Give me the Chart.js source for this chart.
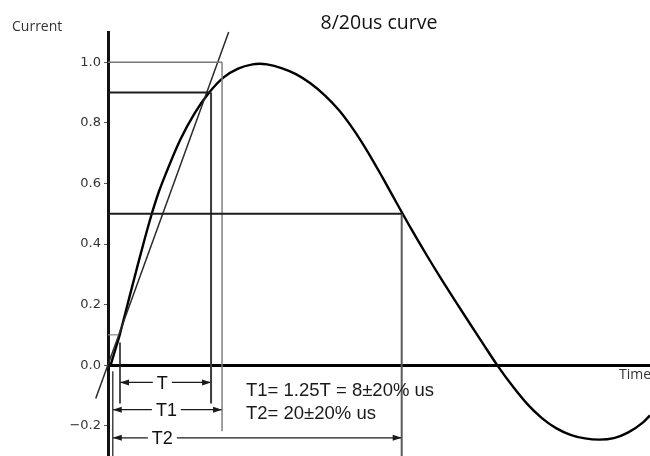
<!DOCTYPE html>
<html><head><meta charset="utf-8">
<script src="https://cdn.jsdelivr.net/npm/chart.js@4"></script>
<style>html,body{margin:0;padding:0;background:#fff;}canvas{display:block;}</style>
</head><body>
<canvas id="c" width="650" height="456"></canvas>
<script>
// ---- data (time in us, current normalised) ----
const curveTime    = [0.18, 0.5, 0.81, 1.0, 1.5, 2.0, 2.5, 3.0, 3.5, 4, 5, 6, 7, 8, 9, 10, 10.5, 11, 12, 13, 14, 15, 16, 17, 18, 19, 20, 21, 22, 23, 24, 25, 26, 27, 28, 29, 30, 31, 32, 33, 34, 35, 36, 37, 37.5];
const curveCurrent = [0, 0.05, 0.1, 0.135, 0.228, 0.32, 0.41, 0.495, 0.57, 0.632, 0.744, 0.832, 0.9, 0.95, 0.979, 0.993, 0.995, 0.993, 0.981, 0.961, 0.931, 0.891, 0.841, 0.777, 0.702, 0.619, 0.533, 0.448, 0.367, 0.289, 0.214, 0.140, 0.067, -0.005, -0.07, -0.128, -0.174, -0.208, -0.23, -0.242, -0.246, -0.241, -0.222, -0.19, -0.166];
const tangentTime    = [-0.85, 8.35];
const tangentCurrent = [-0.11, 1.1];
const levelValues = [1.0, 0.9, 0.5, 0.1];
const levelEnds   = [7.89, 7.13, 20.32, 0.69];
const markerTimes  = [7.89, 7.13, 20.32, 0.83, 0.33];
const markerTop    = [1.0, 0.9, 0.5, 0.075, -0.02];
const markerBottom = [-0.218, -0.127, -0.3, -0.127, -0.3];
const arrowNames   = ['T', 'T1', 'T2'];
const arrowStart   = [0.83, 0.33, 0.33];
const arrowEnd     = [7.13, 7.89, 20.32];
const arrowLevel   = [-0.057, -0.147, -0.24];
const arrowLabelAt = [3.76, 4.04, 3.76];
const yTickValues  = [-0.2, 0.0, 0.2, 0.4, 0.6, 0.8, 1.0];
const chartTitle = '8/20us curve';
const yAxisTitle = 'Current';
const xAxisTitle = 'Time';
const noteLines  = ['T1= 1.25T = 8±20% us', 'T2= 20±20% us'];

// ---- styles ----
const levelColors  = ['#777', '#1c1c1c', '#1c1c1c', '#888'];
const levelWidths  = [1.4, 2, 2, 1.2];
const markerColors = ['#808080', '#3c3c3c', '#5a5a5a', '#222', '#444'];
const markerWidths = [1.5, 2, 2, 1.6, 1.5];

const pts = (xs, ys) => xs.map((v, i) => ({x: v, y: ys[i]}));
const base = {pointRadius: 0, fill: false, tension: 0, borderCapStyle: 'butt'};
const datasets = [];
levelValues.forEach((v, i) => datasets.push(Object.assign({}, base, {
  data: pts([0, levelEnds[i]], [v, v]), borderColor: levelColors[i], borderWidth: levelWidths[i]})));
markerTimes.forEach((t, i) => datasets.push(Object.assign({}, base, {
  data: pts([t, t], [markerTop[i], markerBottom[i]]), borderColor: markerColors[i], borderWidth: markerWidths[i]})));
arrowNames.forEach((n, i) => datasets.push(Object.assign({}, base, {
  data: pts([arrowStart[i], arrowEnd[i]], [arrowLevel[i], arrowLevel[i]]), borderColor: '#1a1a1a', borderWidth: 1.2})));
datasets.push(Object.assign({}, base, {data: pts(tangentTime, tangentCurrent), borderColor: '#2a2a2a', borderWidth: 1.5, clip: false}));
datasets.push(Object.assign({}, base, {data: pts(curveTime, curveCurrent), borderColor: '#000', borderWidth: 2.4, cubicInterpolationMode: 'monotone', borderJoinStyle: 'round'}));

const sketchText = {
  id: 'sketchText',
  afterDatasetsDraw(chart) {
    const {ctx, chartArea, scales: {x, y}} = chart;
    ctx.save();
    // arrow heads and labels
    arrowNames.forEach((name, i) => {
      const yy = y.getPixelForValue(arrowLevel[i]);
      const x0 = x.getPixelForValue(arrowStart[i]);
      const x1 = x.getPixelForValue(arrowEnd[i]);
      ctx.fillStyle = '#1a1a1a';
      [[x0, 1], [x1, -1]].forEach(([tx, d]) => {
        ctx.beginPath();
        ctx.moveTo(tx, yy);
        ctx.lineTo(tx + d * 9, yy - 3);
        ctx.lineTo(tx + d * 9, yy + 3);
        ctx.closePath();
        ctx.fill();
      });
      const lx = x.getPixelForValue(arrowLabelAt[i]);
      ctx.font = '18px "Liberation Sans", Arial, sans-serif';
      const w = ctx.measureText(name).width;
      ctx.fillStyle = '#fff';
      ctx.fillRect(lx - w / 2 - 4, yy - 3, w + 8, 6);
      ctx.fillStyle = '#111';
      ctx.textAlign = 'center';
      ctx.textBaseline = 'alphabetic';
      ctx.fillText(name, lx, yy + 6.5);
    });
    // notes
    ctx.font = '18.5px "Liberation Sans", Arial, sans-serif';
    ctx.fillStyle = '#1a1a1a';
    ctx.textAlign = 'left';
    ctx.textBaseline = 'alphabetic';
    const zy = y.getPixelForValue(0);
    noteLines.forEach((t, i) => ctx.fillText(t, 246, zy + 31 + i * 22.5));
    // title
    ctx.font = '19.5px "Open Sans", sans-serif';
    ctx.fillStyle = '#111';
    ctx.textAlign = 'center';
    ctx.fillText(chartTitle, (chartArea.left + chartArea.right) / 2, 28.5);
    // axis titles
    ctx.font = '14px "Open Sans", sans-serif';
    ctx.fillStyle = '#333';
    ctx.textAlign = 'left';
    ctx.fillText(yAxisTitle, 12, 30.5);
    ctx.fillText(xAxisTitle, chartArea.right - 31, zy + 13.5);
    ctx.restore();
  }
};

new Chart(document.getElementById('c'), {
  type: 'line',
  data: {datasets},
  options: {
    responsive: false,
    animation: false,
    layout: {padding: {top: 32, left: 0, right: 0, bottom: 0}},
    plugins: {legend: {display: false}, tooltip: {enabled: false}, title: {display: false}},
    scales: {
      x: {type: 'linear', min: 0, max: 37.5, display: false},
      y: {
        type: 'linear', min: -0.3, max: 1.1,
        afterBuildTicks: s => { s.ticks = yTickValues.map(v => ({value: v})); },
        afterFit: s => { s.width = 108; s.paddingTop = 0; s.paddingBottom = 0; },
        ticks: {
          padding: 3,
          color: '#333',
          font: {family: '"DejaVu Sans", sans-serif', size: 13},
          callback: v => { const a = Math.abs(v) < 1e-9 ? 0 : v; return (a < 0 ? '\u2212' : '') + Math.abs(a).toFixed(1); }
        },
        grid: {
          drawOnChartArea: true,
          drawTicks: true,
          tickLength: 4,
          tickColor: '#555',
          tickWidth: 1,
          color: c => (c.tick && Math.abs(c.tick.value) < 1e-9) ? '#000' : 'rgba(0,0,0,0)',
          lineWidth: c => (c.tick && Math.abs(c.tick.value) < 1e-9) ? 3 : 1
        },
        border: {display: true, color: '#111', width: 3}
      }
    }
  },
  plugins: [sketchText]
});
</script>
</body></html>
